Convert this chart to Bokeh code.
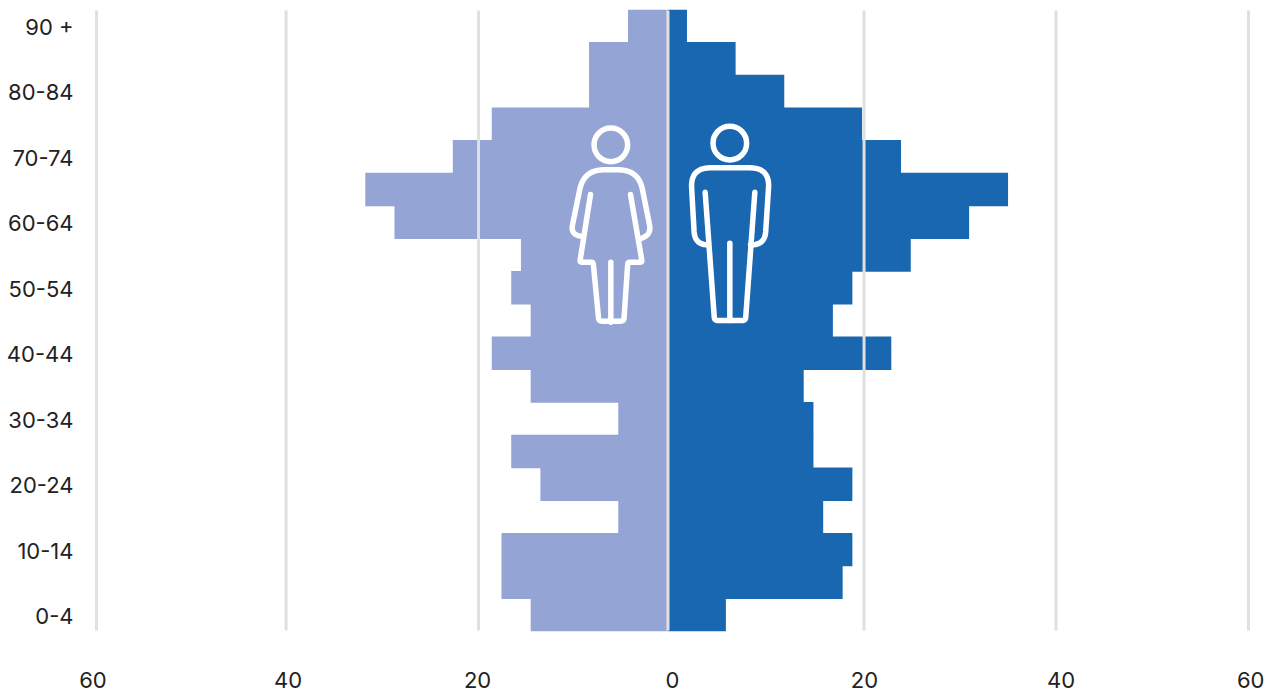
from bokeh.plotting import figure
from bokeh.models import Range1d, FixedTicker, LinearAxis
from bokeh.embed import file_html
from bokeh.resources import INLINE

ages = ["0-4","5-9","10-14","15-19","20-24","25-29","30-34","35-39","40-44","45-49",
        "50-54","55-59","60-64","65-69","70-74","75-79","80-84","85-89","90 +"]
shown_ages = ["0-4","10-14","20-24","30-34","40-44","50-54","60-64","70-74","80-84","90 +"]
women = [14,17,17,5,13,16,5,14,18,14,16,15,28,31,22,18,8,8,4]
men = [6,18,19,16,19,15,15,14,23,17,19,25,31,35,24,20,12,7,2]
grid_vals = [-58.68,-39.2,-19.42,0.05,20.2,39.93,59.71]
x_ticks = [-59.95,-39.74,-20.1,0.1,20,40.36,60.05]
x_labels = ["60","40","20","0","20","40","60"]

FONT = "Inter"
W, H = 1264, 692
LEFT, RIGHT, TOP, BOTTOM = 85, 1264, 9, 631   # pixels of the plot frame inside the figure

p = figure(width=W, height=H, output_backend="svg", toolbar_location=None,
           x_range=Range1d((LEFT-667)/9.73, (RIGHT-667)/9.73), y_range=Range1d(-0.5, 18.5),
           min_border_left=LEFT, min_border_right=W-RIGHT, min_border_top=TOP, min_border_bottom=H-BOTTOM)
p.outline_line_color = None
p.xgrid.visible = False
p.ygrid.visible = False
p.xaxis.visible = False
p.extra_x_ranges["labels"] = Range1d((LEFT-671)/9.65, (RIGHT-671)/9.65)
p.extra_x_ranges["women"] = Range1d((LEFT-666.4)/9.73, (RIGHT-666.4)/9.73)
p.extra_x_ranges["px"] = Range1d(LEFT, RIGHT)
p.extra_y_ranges["px"] = Range1d(BOTTOM, TOP)
p.extra_y_ranges["labels"] = Range1d(-0.47, 18.53)

ys = list(range(len(ages)))
p.hbar(y=ys, left=[-v for v in women], right=0, height=1.02, fill_color="#94a4d4", line_color=None,
       x_range_name="women")
p.hbar(y=ys, left=0, right=men, height=1.02, fill_color="#1a67b1", line_color=None)
for g in grid_vals:
    p.segment(x0=[g], x1=[g], y0=[-0.47], y1=[18.47], line_color="#e0e0e0", line_width=3)

ya = p.yaxis[0]
ya.y_range_name = "labels"
ya.ticker = FixedTicker(ticks=[i for i, a in enumerate(ages) if a in shown_ages])
ya.major_label_overrides = {i: a for i, a in enumerate(ages)}
ya.axis_line_color = None
ya.major_tick_line_color = None
ya.minor_tick_line_color = None
ya.major_tick_out = 0
ya.major_tick_in = 0
ya.major_label_standoff = 12
ya.major_label_text_font = FONT
ya.major_label_text_font_size = "22px"
ya.major_label_text_color = "#222222"

xa = LinearAxis(x_range_name="labels")
xa.ticker = FixedTicker(ticks=x_ticks)
xa.major_label_overrides = dict(zip(x_ticks, x_labels))
xa.axis_line_color = None
xa.major_tick_line_color = None
xa.minor_tick_line_color = None
xa.major_tick_out = 0
xa.major_tick_in = 0
xa.major_label_standoff = 40
xa.major_label_text_font = FONT
xa.major_label_text_font_size = "22px"
xa.major_label_text_color = "#222222"
p.add_layout(xa, "below")

def rounded(pts):
    xs, ys = [], []
    for i, pt in enumerate(pts):
        x, y = pt[0], pt[1]
        r = pt[2] if len(pt) > 2 else 0
        if r and 0 < i < len(pts)-1:
            (ax, ay), (bx, by) = pts[i-1][:2], pts[i+1][:2]
            la = ((ax-x)**2+(ay-y)**2)**.5; lb = ((bx-x)**2+(by-y)**2)**.5
            s = (x+(ax-x)*r/la, y+(ay-y)*r/la); e = (x+(bx-x)*r/lb, y+(by-y)*r/lb)
            for k in range(13):
                t = k/12
                xs.append((1-t)**2*s[0]+2*t*(1-t)*x+t*t*e[0])
                ys.append((1-t)**2*s[1]+2*t*(1-t)*y+t*t*e[1])
        else:
            xs.append(x); ys.append(y)
    return [550+v/3 for v in xs], [110+v/3 for v in ys]

woman = [
    [(97,378),(60,372,30),(100,178,60),(264,178,60),(303,372,30),(268,385)],
    [(120,252),(88,455,6),(128,455,6),(145,632,10),(220,632,10),(232,455,6),(275,455,6),(240,252)],
    [(181,455),(181,635)],
]
man = [
    [(472,403),(433,403,40),(420,172,60),(658,172,60),(643,403,40),(600,403)],
    [(464,245),(492,630,10),(585,630,10),(613,245)],
    [(538,398),(538,630)],
]
for path in woman + man:
    x, y = rounded(path)
    p.line(x, y, x_range_name="px", y_range_name="px", line_color="white", line_width=5.5,
           line_cap="round", line_join="round")
for cx, cy in [(181,103),(538,98)]:
    p.ellipse(x=[550+cx/3], y=[110+cy/3], width=33.6, height=33.6, x_range_name="px", y_range_name="px",
              fill_color=None, line_color="white", line_width=5.5)

open("out.html", "w").write(file_html(p, INLINE))
